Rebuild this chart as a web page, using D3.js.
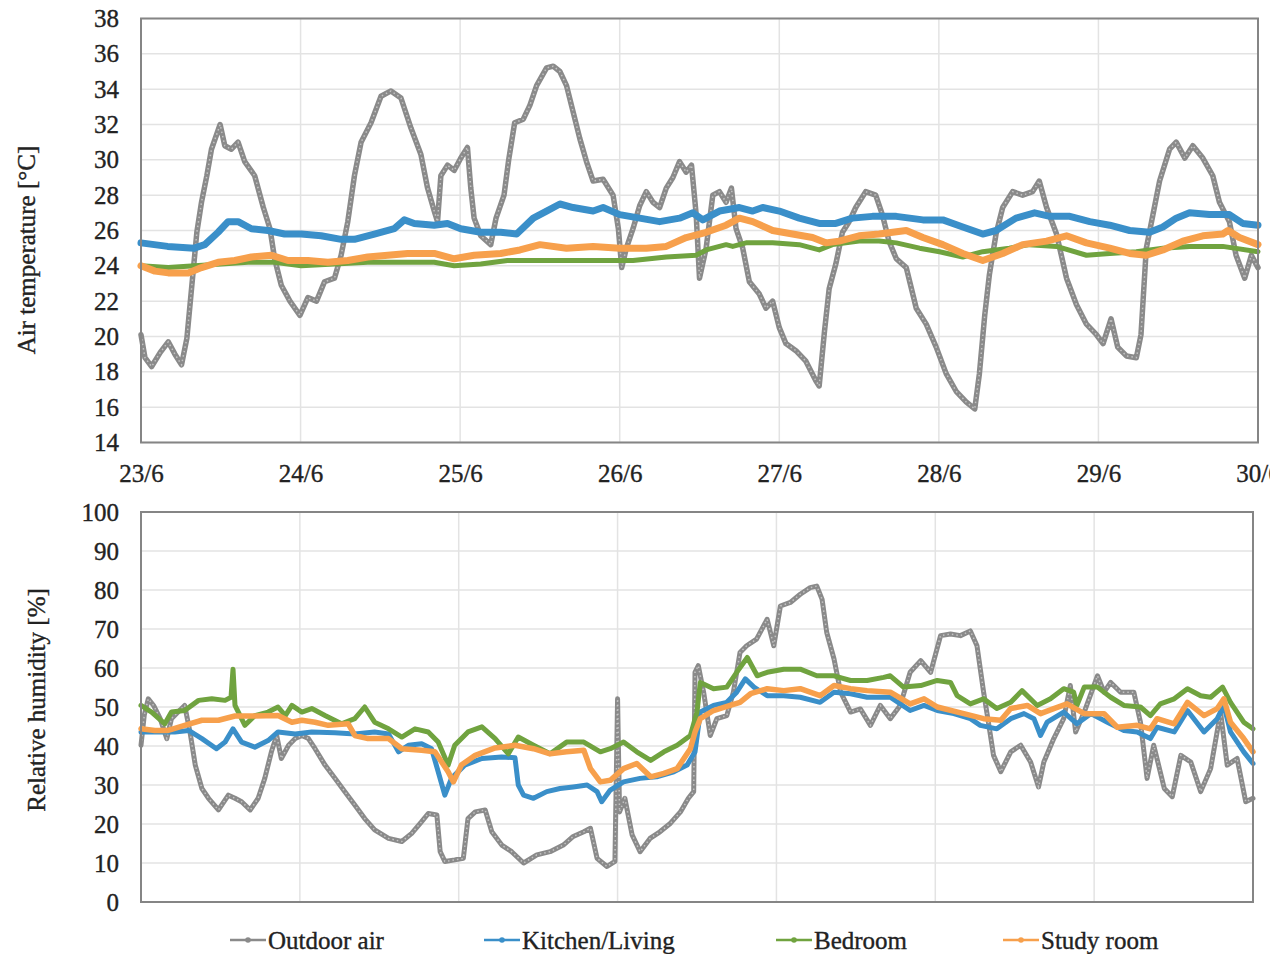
<!DOCTYPE html>
<html>
<head>
<meta charset="utf-8">
<script src="https://cdn.jsdelivr.net/npm/d3@7"></script>
<style>
  body { margin: 0; background: #fff; }
  svg { display: block; font-family: "Liberation Serif", "Times New Roman", serif; }
</style>
</head>
<body>
<svg id="chart" width="1270" height="954"></svg>
<script>
// time in hours from 23/6 00:00
const dayLabels = ["23/6", "24/6", "25/6", "26/6", "27/6", "28/6", "29/6", "30/6"];
const tempTicks = [14, 16, 18, 20, 22, 24, 26, 28, 30, 32, 34, 36, 38];
const rhTicks = [0, 10, 20, 30, 40, 50, 60, 70, 80, 90, 100];
const seriesNames = ["Outdoor air", "Kitchen/Living", "Bedroom", "Study room"];

// air temperature [°C]
const outdoorTemp = [[0,20.1],[0.6,18.8],[1.6,18.3],[2.9,19.1],[4.1,19.7],[5.1,19.0],[6.1,18.4],[6.9,19.9],[7.6,22.7],[8.4,25.9],[9.1,27.6],[9.9,29.1],[10.6,30.6],[11.9,32.0],[12.6,30.8],[13.6,30.6],[14.6,31.0],[15.6,29.9],[17.1,29.1],[18.4,27.3],[19.4,26.1],[20.1,24.4],[21.1,22.9],[22.4,22.0],[23.9,21.2],[25.1,22.2],[26.4,22.0],[27.6,23.1],[29.1,23.3],[30.1,24.6],[31.1,26.5],[32.1,29.1],[33.1,31.0],[34.6,32.1],[36.1,33.6],[37.6,33.9],[39.1,33.5],[40.6,31.8],[42.1,30.3],[43.1,28.4],[44.1,27.1],[44.6,26.5],[45.1,29.1],[46.1,29.7],[47.1,29.4],[48.1,30.1],[49.1,30.7],[49.6,28.4],[50.1,26.7],[51.1,25.7],[52.6,25.2],[53.4,26.7],[54.6,28.0],[55.3,30.0],[56.2,32.1],[57.5,32.3],[58.5,33.1],[59.5,34.2],[61,35.2],[62,35.3],[63,35.0],[64,34.2],[65,32.7],[66,31.2],[67,29.9],[68,28.8],[69.5,28.9],[71,28.0],[71.8,26.1],[72.3,23.9],[73,25.0],[74,26.1],[75,27.4],[76,28.2],[77,27.6],[78,27.3],[79,28.4],[80,29.0],[81,29.9],[82,29.3],[82.8,29.7],[83.5,26.9],[84,23.3],[85,25.0],[86,28.0],[87,28.2],[88,27.6],[88.8,28.4],[89.5,26.1],[90.5,25.0],[91.5,23.1],[93,22.4],[94,21.6],[95,22.0],[96,20.5],[97,19.6],[98.5,19.2],[100,18.6],[101.5,17.5],[102,17.2],[102.8,20.3],[103.5,22.7],[104.5,24.1],[105.5,25.9],[106.5,26.5],[107.5,27.3],[109,28.2],[110.5,28.0],[111.5,26.9],[112.5,25.4],[113.6,24.4],[115.1,23.9],[116.6,21.6],[118.1,20.7],[119.6,19.4],[121.1,17.9],[122.6,16.9],[124.1,16.3],[125.4,15.9],[126.1,17.9],[126.9,21.2],[127.6,23.5],[128.6,25.8],[129.6,27.3],[131.1,28.2],[132.6,28.0],[134.1,28.2],[135.1,28.8],[136.2,27.3],[137.7,25.8],[139.2,23.3],[140.7,21.8],[142.2,20.7],[143.7,20.1],[144.7,19.6],[145.9,21.0],[146.9,19.4],[148.2,18.9],[149.7,18.8],[150.4,20.1],[151.2,25.0],[152.2,26.9],[153.2,28.8],[154.7,30.6],[155.7,31.0],[157,30.1],[158.2,30.8],[159.7,30.1],[161.2,29.1],[162.2,27.6],[163.7,26.5],[164.7,24.6],[166,23.3],[167,24.6],[168,23.9]];
const kitchenTemp = [[0,25.3],[4,25.1],[8,25.0],[9.6,25.2],[11.6,25.9],[13.1,26.5],[14.6,26.5],[16.6,26.1],[19.1,26.0],[21.6,25.8],[24.1,25.8],[27.1,25.7],[30.1,25.5],[32.1,25.5],[35.1,25.8],[38.1,26.1],[39.6,26.6],[41.1,26.4],[44.1,26.3],[46.1,26.4],[48.1,26.1],[51.1,25.9],[54.1,25.9],[56.5,25.8],[59,26.7],[61,27.1],[63,27.5],[65,27.3],[68,27.1],[69.5,27.3],[72,26.9],[75,26.7],[78,26.5],[81,26.7],[83,27.0],[84.5,26.6],[87,27.1],[90,27.3],[92,27.1],[93.5,27.3],[96,27.1],[99,26.7],[102,26.4],[104.5,26.4],[107,26.7],[110,26.8],[113.6,26.8],[117.6,26.6],[120.6,26.6],[123.6,26.2],[126.6,25.8],[128.6,26.0],[131.6,26.7],[134.4,27.0],[136.7,26.8],[139.7,26.8],[142.7,26.5],[145.7,26.3],[148.7,26.0],[151.7,25.9],[153.7,26.2],[155.7,26.7],[157.7,27.0],[160.7,26.9],[163.7,26.9],[165.7,26.4],[168,26.3]];
const bedroomTemp = [[0,24.0],[4.1,23.9],[8.1,24.0],[12.1,24.1],[16.1,24.2],[20.1,24.2],[24.1,24.0],[29.1,24.1],[34.1,24.2],[39.1,24.2],[44.1,24.2],[47.1,24.0],[51.1,24.1],[55.1,24.3],[59,24.3],[64,24.3],[69,24.3],[74,24.3],[79,24.5],[83.5,24.6],[85,24.9],[88,25.2],[89,25.1],[91,25.3],[95,25.3],[99,25.2],[102,24.9],[104,25.2],[108,25.4],[111,25.4],[113.6,25.3],[117.1,25.0],[120.1,24.8],[123.6,24.5],[126.6,24.8],[130.6,25.0],[133.6,25.2],[137.7,25.1],[142.2,24.6],[145.7,24.7],[149.7,24.8],[153.7,25.0],[157.7,25.1],[162.7,25.1],[168,24.8]];
const studyTemp = [[0,24.0],[2.1,23.7],[4.1,23.6],[7.1,23.6],[9.1,23.9],[11.6,24.2],[14.1,24.3],[16.6,24.5],[19.6,24.6],[22.1,24.3],[25.1,24.3],[28.1,24.2],[31.1,24.3],[34.1,24.5],[37.1,24.6],[40.1,24.7],[44.1,24.7],[47.1,24.4],[50.1,24.6],[54.1,24.7],[57,24.9],[60,25.2],[64,25.0],[68,25.1],[72,25.0],[76,25.0],[79,25.1],[82,25.6],[85,25.9],[88,26.3],[90,26.7],[92,26.5],[95,26.0],[98,25.8],[101,25.6],[103,25.3],[105,25.4],[108,25.7],[111,25.8],[115.1,26.0],[117.6,25.6],[120.6,25.2],[123.6,24.7],[126.6,24.3],[129.6,24.7],[132.6,25.2],[136.2,25.4],[139.2,25.7],[142.2,25.3],[145.7,25.0],[148.7,24.7],[151.2,24.6],[153.7,24.9],[156.7,25.4],[159.7,25.7],[162.7,25.8],[163.5,26.0],[165.2,25.6],[168,25.2]];

// relative humidity [%]
const outdoorRH = [[0,40.2],[0.5,48],[1.1,52.1],[1.9,50.4],[2.9,47.0],[3.9,41.9],[4.6,47.0],[5.6,48.7],[6.6,50.4],[7.4,43.6],[8.2,35.1],[9.2,29.1],[10.2,26.6],[11.7,23.6],[13.2,27.4],[14.2,26.6],[15.2,25.7],[16.5,23.6],[17.7,26.6],[18.7,31.7],[19.7,38.5],[20.5,42.7],[21.2,36.8],[22.3,40.2],[23.3,41.9],[24.3,42.7],[25.3,41.9],[26.3,39.3],[27.8,35.1],[29.3,31.7],[30.8,28.3],[32.3,24.9],[33.8,21.4],[35.3,18.5],[37.4,16.3],[39.4,15.5],[40.9,17.6],[42.4,20.6],[43.4,22.7],[44.7,22.3],[45.2,12.9],[45.9,10.4],[47.4,10.8],[48.7,11.2],[49.4,21.4],[50.5,23.1],[52,23.6],[53,18.0],[54.5,14.6],[56,12.9],[57.8,10.0],[59.8,12.1],[61.8,12.9],[63.8,14.6],[65.3,16.8],[66.9,18.0],[67.9,18.9],[68.9,11.2],[70.4,9.1],[71.6,10.4],[72,52.1],[72.3,23.1],[73.1,26.6],[74.2,17.2],[75.4,12.9],[76.9,16.3],[78.4,18.0],[80,20.2],[81.5,23.1],[82.7,26.6],[83.5,28.3],[83.7,58.9],[84.2,60.6],[85,53.8],[86,42.7],[87,47.0],[88.5,47.8],[89.5,53.8],[90.5,64.0],[91.5,65.7],[93,67.4],[94.6,72.5],[95.6,65.7],[96.6,75.9],[98.1,76.8],[99.6,78.9],[101.1,80.6],[102.1,81.0],[102.9,77.6],[103.6,69.1],[104.7,62.3],[105.7,53.8],[107.2,48.7],[108.7,49.5],[110.2,45.3],[111.7,50.4],[113.2,47.0],[114.7,50.4],[116.2,58.9],[117.8,61.9],[119.3,58.9],[120.8,68.3],[122.3,68.7],[123.8,68.3],[125.3,69.5],[126.3,65.7],[127.3,53.8],[128.1,45.3],[128.8,37.6],[129.9,33.4],[131.4,38.5],[132.9,40.2],[134.4,35.9],[135.6,29.5],[136.4,35.9],[137.9,41.9],[139.4,47.0],[140.4,55.5],[141.2,43.6],[142.5,48.7],[144.5,58.0],[145.5,53.8],[146.5,56.3],[148,53.8],[150,53.8],[151,46.1],[152,31.7],[153,40.2],[154.6,29.1],[155.8,27.0],[157.1,37.6],[158.6,35.9],[160.1,28.3],[161.6,34.2],[163.1,48.7],[164.1,35.1],[165.6,36.8],[166.9,25.7],[168,26.6]];
const kitchenRH = [[0,43.6],[5.1,43.6],[7.2,44.0],[9.2,41.9],[11.4,39.3],[12.7,41.0],[13.9,44.4],[15.2,41.0],[17.2,39.7],[19.2,41.4],[20.7,43.6],[23.3,43.1],[25.8,43.6],[29.3,43.4],[32.3,43.1],[35.3,43.6],[37.4,43.1],[38.9,38.5],[40.4,40.2],[42.4,40.6],[43.9,39.3],[44.9,33.4],[45.9,27.4],[46.9,31.7],[48.9,35.1],[51.5,36.8],[54.5,37.2],[56.5,37.0],[57,30.0],[57.8,27.4],[59.3,26.6],[61.3,28.3],[63.3,29.1],[65.3,29.5],[67.4,30.0],[68.9,28.3],[69.6,25.7],[70.9,28.7],[72.9,30.8],[75.4,31.7],[77.9,32.1],[80.5,33.4],[82.5,35.1],[83.7,38.5],[84.5,48.7],[86.5,50.4],[88.5,51.2],[90,53.8],[91.3,57.2],[92.6,55.1],[94.6,52.9],[97.1,52.9],[99.6,52.5],[102.6,51.2],[104.7,53.8],[107.2,53.4],[109.7,52.5],[113.2,52.5],[116.2,49.1],[118.3,50.4],[120.3,49.1],[122.8,48.3],[125.3,47.0],[126.8,45.3],[129.3,44.4],[131.4,47.0],[133.4,48.3],[134.9,47.0],[135.9,42.7],[136.9,46.1],[139.4,48.7],[141.4,45.7],[143.5,48.3],[146,46.1],[148.5,44.0],[150.5,43.6],[152.5,41.9],[153.5,44.8],[156.1,43.6],[158.1,49.1],[160.6,43.6],[162.6,47.0],[163.6,50.4],[164.6,43.6],[166.6,38.5],[168,35.5]];
const bedroomRH = [[0,50.4],[1.6,48.7],[3.6,45.7],[4.6,48.7],[6.6,49.1],[8.7,51.7],[10.7,52.1],[12.7,51.7],[13.6,52.5],[13.9,59.7],[14.2,50.4],[15.7,45.3],[17.2,47.8],[19.2,48.7],[20.7,50.0],[21.8,47.8],[22.8,50.4],[24.3,48.7],[25.8,49.6],[27.8,47.8],[30.3,45.7],[32.3,47.0],[33.8,50.0],[35.3,46.1],[37.4,44.4],[39.4,42.3],[41.4,44.4],[43.4,43.6],[44.9,41.0],[46.4,35.1],[47.4,40.2],[49.4,43.6],[51.5,44.9],[53.5,41.9],[55.5,38.0],[57,42.3],[59.3,40.2],[61.8,38.0],[64.3,41.0],[66.9,41.0],[69.4,38.5],[70.9,39.3],[72.9,41.0],[74.9,38.5],[77,36.3],[79,38.5],[81,40.2],[83,42.7],[84,48.7],[84.5,56.3],[86.5,54.7],[88.5,55.1],[90,58.9],[91.6,62.7],[93.1,58.0],[94.6,58.9],[97.1,59.7],[99.6,59.7],[102.1,58.0],[104.7,58.0],[107.2,56.8],[109.7,56.8],[112.2,57.6],[113.2,58.0],[115.2,55.1],[117.8,55.5],[120.3,56.8],[122.3,56.3],[123.3,52.9],[125.3,50.8],[127.3,52.1],[129.3,49.6],[131.4,51.2],[133.1,54.2],[135.4,50.4],[137.4,52.1],[139.4,54.7],[140.9,53.8],[141.4,50.4],[142.5,55.1],[144.5,55.1],[146.5,52.5],[148.5,50.4],[151,50.0],[152.5,47.8],[154,50.8],[156.1,52.1],[158.1,54.7],[160.1,52.9],[161.6,52.5],[163.4,55.1],[164.6,51.2],[166.6,46.1],[168,44.4]];
const studyRH = [[0,44.4],[2.1,44.0],[4.1,44.0],[6.6,45.3],[9.2,46.6],[11.7,46.6],[14.2,47.7],[16.7,47.7],[20.7,47.8],[22.8,46.1],[24.3,46.6],[26.3,46.1],[28.3,45.3],[31.3,45.7],[32.3,42.7],[34.3,41.9],[37.4,41.9],[39.4,39.3],[42.4,38.9],[44.4,38.5],[46.4,33.4],[47.2,30.8],[48.4,35.1],[50.5,37.6],[53.5,39.5],[56.5,40.2],[59.3,39.3],[61.8,38.0],[64.3,38.5],[66.9,38.9],[67.9,34.2],[69.4,30.8],[70.9,31.2],[72.9,34.2],[74.9,35.5],[77,32.1],[79,33.0],[81,34.2],[83,39.3],[83.7,43.6],[84.5,47.0],[86.5,49.1],[89,50.4],[90.5,51.2],[92.1,53.4],[94.6,54.7],[97.1,54.2],[99.6,54.7],[102.6,52.9],[104.7,55.5],[107.2,54.7],[109.7,54.2],[113.2,53.8],[116.2,50.8],[118.3,52.1],[120.3,50.0],[124.3,48.3],[127.3,47.0],[129.9,46.6],[131.4,49.6],[133.9,50.4],[135.9,48.3],[137.9,49.6],[139.9,50.8],[142.5,48.3],[145.5,48.3],[147.5,44.8],[150.5,45.3],[152.5,44.4],[153.5,47.0],[156.1,45.7],[158.1,51.2],[160.6,47.8],[162.6,49.6],[163.6,52.1],[164.6,46.1],[166.6,41.9],[168,38.5]];

const colors = ["#8a8a8a", "#3a8fc9", "#70a33f", "#f7a04c"];
const svg = d3.select("#chart");
const textColor = "#222";

// the scanned figure has slightly heavy type, a thin stroke imitates that
function styleText(sel) {
  sel.attr("font-size", 25).attr("fill", textColor)
    .attr("stroke", textColor).attr("stroke-width", 0.35)
    .attr("font-family", "Liberation Serif, Times New Roman, serif");
}

function drawPanel(box, yDomain, yTicks, title, series, widths, showX) {
  const x = d3.scaleLinear().domain([0, 168]).range([box.left, box.right]);
  const y = d3.scaleLinear().domain(yDomain).range([box.bottom, box.top]);
  const g = svg.append("g");

  // gridlines
  g.append("g").selectAll("line").data(yTicks).join("line")
    .attr("x1", box.left).attr("x2", box.right)
    .attr("y1", d => y(d)).attr("y2", d => y(d))
    .attr("stroke", "#e3e3e3").attr("stroke-width", 1.5);
  g.append("g").selectAll("line").data(d3.range(24, 168, 24)).join("line")
    .attr("x1", d => x(d)).attr("x2", d => x(d))
    .attr("y1", box.top).attr("y2", box.bottom)
    .attr("stroke", "#e3e3e3").attr("stroke-width", 1.5);

  // series, outdoor first so the indoor rooms sit on top
  const line = d3.line().x(d => x(d[0])).y(d => y(d[1]));
  series.forEach((s, i) => {
    g.append("path").datum(s)
      .attr("d", line)
      .attr("fill", "none")
      .attr("stroke", colors[i])
      .attr("stroke-width", widths[i])
      .attr("stroke-linejoin", "round")
      .attr("stroke-linecap", "round");
    if (i === 0) {
      // marker texture of the outdoor line
      g.append("path").datum(s)
        .attr("d", line)
        .attr("fill", "none")
        .attr("stroke", "#c4c4c4")
        .attr("stroke-width", 1.5)
        .attr("stroke-dasharray", "1.5,3");
    }
  });

  // frame
  g.append("rect")
    .attr("x", box.left).attr("y", box.top)
    .attr("width", box.right - box.left).attr("height", box.bottom - box.top)
    .attr("fill", "none").attr("stroke", "#858585").attr("stroke-width", 2);

  // y axis labels
  const yAxis = d3.axisLeft(y).tickValues(yTicks).tickSize(0).tickPadding(22);
  const ya = g.append("g").attr("transform", `translate(${box.left},0)`).call(yAxis);
  ya.select(".domain").remove();
  styleText(ya.selectAll("text"));

  if (showX) {
    const xAxis = d3.axisBottom(x).tickValues(d3.range(0, 169, 24))
      .tickFormat((d, i) => dayLabels[i]).tickSize(0).tickPadding(22);
    const xa = g.append("g").attr("transform", `translate(0,${box.bottom})`).call(xAxis);
    xa.select(".domain").remove();
    styleText(xa.selectAll("text"));
  }

  // axis title
  const t = g.append("text")
    .attr("transform", `translate(${title.x},${title.y}) rotate(-90)`)
    .attr("text-anchor", "middle")
    .text(title.text);
  styleText(t);
}

drawPanel({ left: 141, right: 1258, top: 18.5, bottom: 442.5 }, [14, 38], tempTicks,
  { text: "Air temperature [°C]", x: 35, y: 250 },
  [outdoorTemp, kitchenTemp, bedroomTemp, studyTemp], [5.5, 7, 5, 7], true);

drawPanel({ left: 141, right: 1253, top: 512, bottom: 902 }, [0, 100], rhTicks,
  { text: "Relative humidity [%]", x: 45, y: 700 },
  [outdoorRH, kitchenRH, bedroomRH, studyRH], [5, 5, 5, 5.5], false);

// legend
const legendX = [230, 484, 776, 1003];
const lg = svg.append("g").attr("transform", "translate(0,940)");
seriesNames.forEach((name, i) => {
  const item = lg.append("g").attr("transform", `translate(${legendX[i]},0)`);
  item.append("line").attr("x1", 0).attr("x2", 36).attr("y1", 0).attr("y2", 0)
    .attr("stroke", colors[i]).attr("stroke-width", 2.5);
  item.append("circle").attr("cx", 18).attr("cy", 0).attr("r", 2.8).attr("fill", colors[i]);
  styleText(item.append("text").attr("x", 38).attr("y", 9).text(name));
});
</script>
</body>
</html>
